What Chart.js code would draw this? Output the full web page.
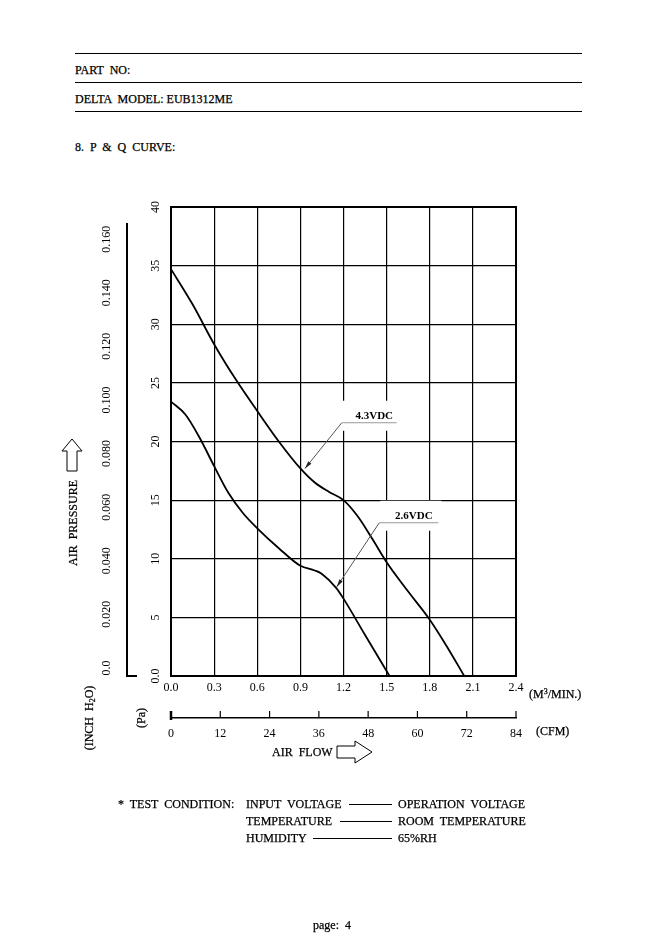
<!DOCTYPE html>
<html><head><meta charset="utf-8">
<script src="https://cdn.jsdelivr.net/npm/chart.js@4"></script>
<style>
html,body{margin:0;padding:0;background:#fff;}
body{width:661px;height:945px;position:relative;overflow:hidden;font-family:"Liberation Serif","DejaVu Serif",serif;color:#000;}
#c{position:absolute;left:0;top:0;}
.t{position:absolute;font-size:12px;white-space:pre;line-height:12px;-webkit-text-stroke:0.25px #000;}
.hr{position:absolute;left:75px;width:507px;height:0;border-top:1.3px solid #000;}
.dash{position:absolute;height:0;border-top:1.2px solid #000;}
.rot{position:absolute;transform:translate(-50%,-50%) rotate(-90deg);white-space:pre;font-size:12px;line-height:12px;-webkit-text-stroke:0.25px #000;}
svg{position:absolute;}
</style></head>
<body>
<div class="hr" style="top:53px"></div>
<div class="t" style="left:75px;top:64px">PART  NO:</div>
<div class="hr" style="top:82px"></div>
<div class="t" style="left:75px;top:93px">DELTA  MODEL: EUB1312ME</div>
<div class="hr" style="top:111px"></div>
<div class="t" style="left:75px;top:141px">8.  P  &amp;  Q  CURVE:</div>

<canvas id="c" width="661" height="945"></canvas>

<div class="rot" style="left:73px;top:523px">AIR  PRESSURE</div>
<svg style="left:60px;top:438px" width="24" height="34"><path d="M12 1 L22 13 L17 13 L17 33 L7 33 L7 13 L2 13 Z" fill="#fff" stroke="#000" stroke-width="1"/></svg>
<div class="rot" style="left:91px;top:718px">(INCH  H<sub style="font-size:8px;vertical-align:-2px">2</sub>O)</div>
<div class="rot" style="left:141px;top:718px">(Pa)</div>
<div class="t" style="left:529px;top:686px">(M<sup style="font-size:8px;vertical-align:4px">3</sup>/MIN.)</div>
<div class="t" style="left:536px;top:725px">(CFM)</div>
<div class="t" style="left:272px;top:746px">AIR  FLOW</div>
<svg style="left:335px;top:739px" width="40" height="26"><path d="M2 7 L20 7 L20 2 L37 13 L20 24 L20 19 L2 19 Z" fill="#fff" stroke="#000" stroke-width="1"/></svg>

<div class="t" style="left:118px;top:798px">*  TEST  CONDITION:</div>
<div class="t" style="left:246px;top:798px">INPUT  VOLTAGE</div>
<div class="dash" style="left:349px;width:43px;top:804px"></div>
<div class="t" style="left:398px;top:798px">OPERATION  VOLTAGE</div>
<div class="t" style="left:246px;top:815px">TEMPERATURE</div>
<div class="dash" style="left:340px;width:52px;top:821px"></div>
<div class="t" style="left:398px;top:815px">ROOM  TEMPERATURE</div>
<div class="t" style="left:246px;top:832px">HUMIDITY</div>
<div class="dash" style="left:313px;width:79px;top:838px"></div>
<div class="t" style="left:398px;top:832px">65%RH</div>

<div class="t" style="left:313px;top:919px">page:  4</div>

<script>
// ---- data ----
const FLOW_TICKS = [0, 0.3, 0.6, 0.9, 1.2, 1.5, 1.8, 2.1, 2.4];          // M^3/MIN
const CFM_TICKS = [0, 12, 24, 36, 48, 60, 72, 84];                        // CFM
const PA_TICKS = [0, 5, 10, 15, 20, 25, 30, 35, 40];                      // Pa
const INCH_TICKS = [0, 0.02, 0.04, 0.06, 0.08, 0.10, 0.12, 0.14, 0.16];   // inch H2O

const FLOW_43 = [0, 0.15, 0.3, 0.45, 0.6, 0.75, 0.9, 1.0, 1.1, 1.2, 1.3, 1.4, 1.5, 1.65, 1.8, 1.92, 2.04];
const PRES_43 = [34.7, 31.7, 28.3, 25.3, 22.6, 20.0, 17.7, 16.5, 15.7, 15.0, 13.6, 11.7, 9.7, 7.2, 4.8, 2.5, 0];

const FLOW_26 = [0, 0.1, 0.2, 0.3, 0.4, 0.5, 0.6, 0.75, 0.9, 1.0, 1.05, 1.15, 1.2, 1.35, 1.52];
const PRES_26 = [23.4, 22.3, 20.3, 17.9, 15.6, 13.9, 12.6, 10.9, 9.4, 9.0, 8.7, 7.5, 6.6, 3.5, 0];

const SERIES_NAMES = ['4.3VDC', '2.6VDC'];
// leader-label anchors in data units: [tip flow, tip pres, elbow flow, elbow pres, underline end flow]
const LEADER_43 = [0.932, 17.7, 1.188, 21.6, 1.57];
const LEADER_26 = [1.153, 7.6, 1.449, 13.07, 1.86];

const pts = (xs, ys) => xs.map((x, i) => ({x, y: ys[i]}));
const FONT = {family: '"Liberation Serif", "DejaVu Serif", serif', size: 12};
Chart.defaults.font = FONT;
Chart.defaults.color = '#000';

const decor = {
  id: 'decor',
  beforeDatasetsDraw(chart) {
    const {ctx, scales: {x, y}} = chart;
    ctx.save();
    [LEADER_43, LEADER_26].forEach(L => {
      const ex = x.getPixelForValue(L[2]), ey = y.getPixelForValue(L[3]);
      const rx = x.getPixelForValue(L[4]);
      ctx.fillStyle = '#fff';
      ctx.fillRect(ex + 1, ey - 22, rx - ex + 2, 30);
    });
    ctx.restore();
  },
  afterDatasetsDraw(chart) {
    const {ctx, chartArea: ca, scales: {x, y, xc, yi}} = chart;
    ctx.save();
    // frame
    ctx.strokeStyle = '#000';
    ctx.lineWidth = 2;
    ctx.strokeRect(ca.left, ca.top, ca.right - ca.left, ca.bottom - ca.top);
    // leaders
    [[LEADER_43, SERIES_NAMES[0]], [LEADER_26, SERIES_NAMES[1]]].forEach(([L, name]) => {
      const tx = x.getPixelForValue(L[0]), ty = y.getPixelForValue(L[1]);
      const ex = x.getPixelForValue(L[2]), ey = y.getPixelForValue(L[3]);
      const rx = x.getPixelForValue(L[4]);
      ctx.strokeStyle = '#555';
      ctx.lineWidth = 1;
      ctx.beginPath(); ctx.moveTo(ex, ey); ctx.lineTo(tx, ty); ctx.stroke();
      ctx.strokeStyle = '#999';
      ctx.beginPath(); ctx.moveTo(ex, ey); ctx.lineTo(rx, ey); ctx.stroke();
      // arrow head
      const a = Math.atan2(ty - ey, tx - ex);
      ctx.fillStyle = '#222';
      ctx.beginPath();
      ctx.moveTo(tx, ty);
      ctx.lineTo(tx - 8 * Math.cos(a - 0.25), ty - 8 * Math.sin(a - 0.25));
      ctx.lineTo(tx - 8 * Math.cos(a + 0.25), ty - 8 * Math.sin(a + 0.25));
      ctx.closePath(); ctx.fill();
      ctx.fillStyle = '#000';
      ctx.font = 'bold 11px "Liberation Serif", serif';
      ctx.textAlign = 'center';
      ctx.textBaseline = 'alphabetic';
      ctx.fillText(name, (ex + rx) / 2 + 5, ey - 4);
    });
    // inch axis line
    ctx.strokeStyle = '#000';
    ctx.lineWidth = 2;
    const ix = yi.right;
    ctx.beginPath();
    ctx.moveTo(ix, yi.getPixelForValue(0.166));
    ctx.lineTo(ix, ca.bottom);
    ctx.lineTo(ix + 10, ca.bottom);
    ctx.stroke();
    // CFM ticks (upward)
    xc.ticks.forEach((t, i) => {
      const px = xc.getPixelForValue(t.value);
      ctx.lineWidth = i === 0 ? 2.5 : 1.2;
      ctx.beginPath();
      ctx.moveTo(px, xc.top + (i === 0 ? 2 : 0));
      ctx.lineTo(px, xc.top - 7);
      ctx.stroke();
    });
    ctx.restore();
  }
};

new Chart(document.getElementById('c'), {
  type: 'line',
  data: {
    datasets: [
      {label: SERIES_NAMES[0], data: pts(FLOW_43, PRES_43), xAxisID: 'x', yAxisID: 'y'},
      {label: SERIES_NAMES[1], data: pts(FLOW_26, PRES_26), xAxisID: 'x', yAxisID: 'y'}
    ]
  },
  options: {
    responsive: false,
    devicePixelRatio: 1,
    animation: false,
    elements: {
      line: {borderColor: '#000', borderWidth: 1.8, cubicInterpolationMode: 'monotone', fill: false},
      point: {radius: 0, hoverRadius: 0}
    },
    layout: {padding: {left: 0, right: 145, top: 207, bottom: 187}},
    plugins: {legend: {display: false}, tooltip: {enabled: false}},
    events: [],
    scales: {
      x: {
        type: 'linear', position: 'bottom', weight: 0, min: 0, max: 2.4,
        afterBuildTicks: s => { s.ticks = FLOW_TICKS.map(v => ({value: v})); },
        afterFit: s => { s.height = 42; },
        grid: {color: '#000', lineWidth: 1.2, drawTicks: false},
        border: {display: false},
        ticks: {padding: 5, maxRotation: 0, autoSkip: false, callback: v => v.toFixed(1)}
      },
      xc: {
        type: 'linear', position: 'bottom', weight: 1, min: 0, max: 84,
        afterBuildTicks: s => { s.ticks = CFM_TICKS.map(v => ({value: v})); },
        afterFit: s => { s.height = 40; },
        grid: {drawOnChartArea: false, drawTicks: false},
        border: {display: true, color: '#000', width: 1.6},
        ticks: {padding: 9, maxRotation: 0, autoSkip: false, callback: v => String(v)}
      },
      y: {
        type: 'linear', position: 'left', weight: 0, min: 0, max: 40,
        afterBuildTicks: s => { s.ticks = PA_TICKS.map(v => ({value: v})); },
        afterFit: s => { s.width = 44; },
        grid: {color: '#000', lineWidth: 1.2, drawTicks: false},
        border: {display: false},
        ticks: {minRotation: 90, maxRotation: 90, crossAlign: 'center', padding: 8, autoSkip: false,
                callback: v => v === 0 ? '0.0' : String(v)}
      },
      yi: {
        type: 'linear', position: 'left', weight: 1, min: -0.003, max: 0.172,
        afterBuildTicks: s => { s.ticks = INCH_TICKS.map(v => ({value: v})); },
        afterFit: s => { s.width = 127; },
        grid: {display: false, drawTicks: false},
        border: {display: false},
        ticks: {minRotation: 90, maxRotation: 90, crossAlign: 'center', padding: 7, autoSkip: false,
                callback: v => v === 0 ? '0.0' : v.toFixed(3)}
      }
    }
  },
  plugins: [decor]
});
</script>
</body></html>
